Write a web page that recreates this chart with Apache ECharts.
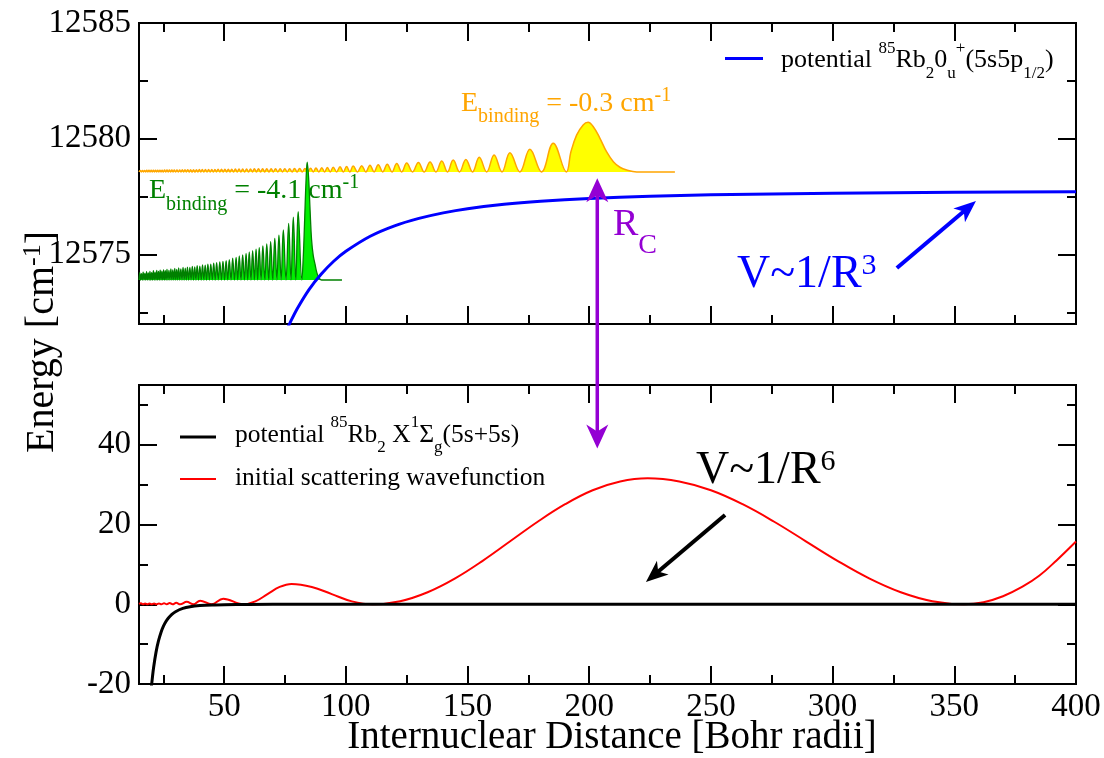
<!DOCTYPE html>
<html><head><meta charset="utf-8">
<script src="https://cdn.jsdelivr.net/npm/echarts@6/dist/echarts.min.js"></script>
<style>html,body{margin:0;padding:0;background:#fff}#c{width:1104px;height:758px}</style>
</head><body><div id="c"></div>
<script>
// ---------------- data ----------------
const X_MIN = 15, X_MAX = 400;
const TOP_Y_MIN = 12572, TOP_Y_MAX = 12585;
const BOT_Y_MIN = -20, BOT_Y_MAX = 55;

const xMajorTicks = [50,100,150,200,250,300,350,400];
const xMinorTicks = [25,75,125,175,225,275,325,375];
const topYMajorTicks = [12575,12580,12585];
const topYMinorTicks = [12572.5,12577.5,12582.5];
const botYMajorTicks = [-20,0,20,40];
const botYMinorTicks = [-10,10,30,50];

// excited potential 0u+ (5s5p1/2)
const bluePotential = [[76,12571.81],[77,12572.04],[80,12572.66],[85,12573.51],[90,12574.17],[95,12574.71],[100,12575.14],[110,12575.79],[120,12576.24],[130,12576.56],[140,12576.80],[150,12576.98],[165,12577.17],[180,12577.30],[200,12577.42],[225,12577.52],[250,12577.58],[300,12577.65],[350,12577.69],[400,12577.71]];

// bound state E = -4.1 cm-1 (|psi|^2 drawn on its energy)
const GREEN_BASE = 12573.90;
const greenPeaks = [[15.3,12574.22],[16.0,12574.17],[16.7,12574.24],[17.4,12574.19],[18.1,12574.26],[18.8,12574.21],[19.5,12574.27],[20.2,12574.22],[20.9,12574.30],[21.6,12574.24],[22.3,12574.31],[23.0,12574.27],[23.7,12574.33],[24.4,12574.28],[25.1,12574.34],[25.8,12574.30],[26.5,12574.36],[27.3,12574.32],[28.1,12574.38],[28.9,12574.34],[29.7,12574.40],[30.5,12574.36],[31.3,12574.42],[32.2,12574.38],[33.1,12574.44],[34.0,12574.41],[34.9,12574.46],[35.9,12574.44],[36.9,12574.49],[37.9,12574.47],[38.9,12574.52],[40.0,12574.50],[41.1,12574.55],[42.2,12574.54],[43.3,12574.58],[44.5,12574.58],[45.7,12574.63],[46.9,12574.65],[48.2,12574.68],[49.5,12574.70],[50.8,12574.74],[52.1,12574.78],[53.5,12574.84],[54.9,12574.88],[56.2,12574.94],[57.6,12574.98],[59.0,12575.05],[60.3,12575.11],[61.7,12575.17],[63.1,12575.23],[64.4,12575.30],[65.9,12575.37],[67.5,12575.46],[69.1,12575.56],[70.8,12575.70],[72.5,12575.84],[74.3,12576.06],[76.5,12576.35],[78.4,12576.61],[80.4,12576.85],[82.5,12574.9],[83.0,12576.3],[83.6,12578.1],[84.1,12578.99],[84.7,12578.3],[85.3,12576.9],[85.9,12575.65],[86.6,12574.95],[87.3,12574.6],[88.0,12574.25],[88.7,12574.04]];
const greenNodes = [15.0,15.65,16.35,17.05,17.75,18.45,19.15,19.85,20.55,21.25,21.95,22.65,23.35,24.05,24.75,25.45,26.15,26.9,27.7,28.5,29.3,30.1,30.9,31.75,32.65,33.55,34.45,35.4,36.4,37.4,38.4,39.45,40.55,41.65,42.75,43.9,45.1,46.3,47.55,48.85,50.15,51.45,52.8,54.2,55.55,56.9,58.3,59.65,61.0,62.4,63.75,65.15,66.7,68.3,69.95,71.65,73.4,75.4,77.45,79.4,81.9,90.0,98.4];

// bound state E = -0.3 cm-1
const ORANGE_BASE = 12578.57;
const orangePeaks = [[15.5,12578.63],[16.4,12578.63],[17.3,12578.63],[18.2,12578.64],[19.1,12578.64],[20.0,12578.64],[20.9,12578.64],[21.8,12578.64],[22.7,12578.64],[23.6,12578.64],[24.5,12578.64],[25.5,12578.65],[26.5,12578.65],[27.5,12578.65],[28.5,12578.65],[29.5,12578.65],[30.6,12578.65],[31.7,12578.65],[32.8,12578.66],[33.9,12578.66],[35.0,12578.66],[36.2,12578.66],[37.4,12578.66],[38.6,12578.66],[39.8,12578.67],[41.0,12578.67],[42.3,12578.67],[43.6,12578.67],[44.9,12578.67],[46.2,12578.67],[47.5,12578.68],[48.9,12578.68],[50.3,12578.68],[51.7,12578.68],[53.1,12578.68],[54.6,12578.69],[56.1,12578.69],[57.6,12578.69],[59.2,12578.69],[60.8,12578.69],[62.4,12578.70],[64.1,12578.70],[65.8,12578.70],[67.5,12578.70],[69.3,12578.70],[71.1,12578.71],[73.0,12578.71],[74.9,12578.71],[76.9,12578.71],[78.9,12578.72],[81.0,12578.72],[83.2,12578.72],[85.5,12578.73],[87.7,12578.74],[90.1,12578.75],[92.4,12578.76],[94.8,12578.77],[97.6,12578.79],[100.3,12578.80],[103.0,12578.82],[106.5,12578.84],[109.9,12578.86],[113.3,12578.88],[117.0,12578.90],[120.9,12578.93],[125.0,12578.95],[129.8,12578.98],[134.6,12579.00],[139.4,12579.04],[144.1,12579.08],[149.3,12579.11],[154.8,12579.20],[160.9,12579.30],[167.4,12579.40],[175.6,12579.55],[185.2,12579.81],[192.5,12579.45],[194.8,12580.16],[197.5,12580.60],[199.5,12580.71],[201.8,12580.50],[204.4,12580.02],[207.1,12579.44],[209.9,12579.01],[212.6,12578.77],[215.4,12578.65]];
const orangeNodes = [15.0,15.95,16.85,17.75,18.65,19.55,20.45,21.35,22.25,23.15,24.05,25.0,26.0,27.0,28.0,29.0,30.05,31.15,32.25,33.35,34.45,35.6,36.8,38.0,39.2,40.4,41.65,42.95,44.25,45.55,46.85,48.2,49.6,51.0,52.4,53.85,55.35,56.85,58.4,60.0,61.6,63.25,64.95,66.65,68.4,70.2,72.05,73.95,75.9,77.9,79.95,82.1,84.35,86.6,88.9,91.25,93.6,96.2,98.95,101.65,104.75,108.2,111.6,115.15,118.95,122.95,127.4,132.2,137.0,141.75,146.7,152.05,157.85,164.15,171.5,180.4,190.6,219.5,235.2];

// ground potential X1Sigma_g (5s+5s)
const blackPotential = [[20.0,-21.25],[20.5,-18.4],[21,-15.85],[22,-12.0],[23,-9.19],[24,-7.12],[25,-5.57],[26,-4.40],[27,-3.51],[28.5,-2.55],[30,-1.87],[33,-1.05],[36,-0.62],[40,-0.33],[45,-0.16],[50,-0.09],[60,-0.03],[80,-0.005],[400,0]];

// initial scattering wavefunction
const redWave = [[15,0.1],[15.8,0.25],[16.6,0],[17.5,0.2],[18.4,0],[19.3,0.2],[20.2,0],[21.2,0.2],[22.2,0],[23.2,0.2],[24.2,0],[25.3,0.25],[26.4,0],[27.6,0.3],[28.8,0],[30.3,0.35],[31.9,0],[34.6,0.6],[37.4,0],[40.1,0.9],[44.8,0],[49.6,1.4],[57.8,0],[62.8,0.73],[67.8,2.55],[72.8,4.35],[77.7,5.1],[86,4.35],[94.2,2.55],[102.5,0.73],[111,0],[122.3,0.77],[133.6,3.02],[144.9,6.5],[156.2,10.9],[167.5,15.8],[178.8,20.7],[190.1,25.1],[201.4,28.6],[212.7,30.8],[224,31.6],[237,30.8],[250,28.6],[263,25.1],[276,20.7],[289,15.8],[302,10.9],[315,6.5],[328,3.02],[341,0.77],[354,0],[362,0.5],[370,2.0],[378,4.4],[385,7.2],[392,11.0],[400,15.75]];

// ---------------- chart ----------------
const FONT = 'Liberation Serif';
const chart = echarts.init(document.getElementById('c'), null, {renderer:'canvas'});

function wave(peaks, nodes, base){
  const pts = peaks.map(p => [p[0], p[1]]);
  nodes.forEach(r => pts.push([r, base]));
  pts.sort((a,b) => a[0]-b[0]);
  return pts;
}
const AXC = '#000';
const LABEL = {color:'#000', fontFamily:FONT, fontSize:33, formatter: v => String(v)};
function xAx(grid, pos, vals, len, labels){
  return {type:'value', gridIndex:grid, position:pos, min:X_MIN, max:X_MAX, offset:0,
    axisLine:{show:true, onZero:false, lineStyle:{color:AXC, width:2}},
    axisTick:{show:true, inside:true, length:len, customValues:vals, lineStyle:{color:AXC, width:2}},
    axisLabel:Object.assign({show:labels, customValues:vals, margin:7}, LABEL),
    splitLine:{show:false}, minorTick:{show:false}};
}
function yAx(grid, pos, vals, len, labels, mn, mx){
  return {type:'value', gridIndex:grid, position:pos, min:mn, max:mx, offset:0,
    axisLine:{show:true, onZero:false, lineStyle:{color:AXC, width:2}},
    axisTick:{show:true, inside:true, length:len, customValues:vals, lineStyle:{color:AXC, width:2}},
    axisLabel:Object.assign({show:labels, customValues:vals, margin:8}, LABEL),
    splitLine:{show:false}, minorTick:{show:false}};
}
const MAJ = 18, MIN = 9;

chart.setOption({
  animation:false,
  backgroundColor:'#fff',
  textStyle:{fontFamily:FONT},
  grid:[
    {left:139, right:28, top:23, height:301},
    {left:139, right:28, top:385, height:299}
  ],
  xAxis:[
    xAx(0,'bottom',xMajorTicks,MAJ,false), xAx(0,'bottom',xMinorTicks,MIN,false),
    xAx(0,'top',xMajorTicks,MAJ,false), xAx(0,'top',xMinorTicks,MIN,false),
    xAx(1,'bottom',xMajorTicks,MAJ,true), xAx(1,'bottom',xMinorTicks,MIN,false),
    xAx(1,'top',xMajorTicks,MAJ,false), xAx(1,'top',xMinorTicks,MIN,false)
  ],
  yAxis:[
    yAx(0,'left',topYMajorTicks,MAJ,true,TOP_Y_MIN,TOP_Y_MAX), yAx(0,'left',topYMinorTicks,MIN,false,TOP_Y_MIN,TOP_Y_MAX),
    yAx(0,'right',topYMajorTicks,MAJ,false,TOP_Y_MIN,TOP_Y_MAX), yAx(0,'right',topYMinorTicks,MIN,false,TOP_Y_MIN,TOP_Y_MAX),
    yAx(1,'left',botYMajorTicks,MAJ,true,BOT_Y_MIN,BOT_Y_MAX), yAx(1,'left',botYMinorTicks,MIN,false,BOT_Y_MIN,BOT_Y_MAX),
    yAx(1,'right',botYMajorTicks,MAJ,false,BOT_Y_MIN,BOT_Y_MAX), yAx(1,'right',botYMinorTicks,MIN,false,BOT_Y_MIN,BOT_Y_MAX)
  ],
  series:[
    {type:'line', xAxisIndex:0, yAxisIndex:0, data:wave(orangePeaks, orangeNodes, ORANGE_BASE), symbol:'none', smooth:0.4,
      lineStyle:{color:'#ffa500', width:1.5}, areaStyle:{origin:ORANGE_BASE, color:'#ffff00', opacity:1}, z:2, silent:true},
    {type:'line', xAxisIndex:0, yAxisIndex:0, data:wave(greenPeaks, greenNodes, GREEN_BASE), symbol:'none', smooth:0.4,
      lineStyle:{color:'#008000', width:1.3}, areaStyle:{origin:GREEN_BASE, color:'#00f000', opacity:1}, z:3, silent:true},
    {type:'line', xAxisIndex:0, yAxisIndex:0, data:bluePotential, symbol:'none', smooth:0.3,
      lineStyle:{color:'#0000ff', width:3}, z:4, silent:true},
    {type:'line', xAxisIndex:4, yAxisIndex:4, data:redWave, symbol:'none', smooth:0.4,
      lineStyle:{color:'#ff0000', width:2}, z:3, silent:true},
    {type:'line', xAxisIndex:4, yAxisIndex:4, data:blackPotential, symbol:'none', smooth:0.3,
      lineStyle:{color:'#000000', width:3}, z:4, silent:true}
  ]
});

// ---------------- annotations ----------------
const G = [];
const P0 = (x,y) => chart.convertToPixel({seriesIndex:0}, [x,y]);
const P1 = (x,y) => chart.convertToPixel({seriesIndex:3}, [x,y]);

function arrowHead(tip, from, color, L, W, notch){
  const dx = tip[0]-from[0], dy = tip[1]-from[1];
  const len = Math.hypot(dx,dy), ux = dx/len, uy = dy/len, nx = -uy, ny = ux;
  const bx = tip[0]-ux*L, by = tip[1]-uy*L;
  G.push({type:'polygon', z:60, silent:true, shape:{points:[[tip[0],tip[1]],[bx+nx*W,by+ny*W],[tip[0]-ux*(L-notch),tip[1]-uy*(L-notch)],[bx-nx*W,by-ny*W]]}, style:{fill:color}});
  return [tip[0]-ux*(L-notch-1), tip[1]-uy*(L-notch-1)];
}
function seg(a,b,color,w){
  G.push({type:'line', z:59, silent:true, shape:{x1:a[0],y1:a[1],x2:b[0],y2:b[1]}, style:{stroke:color, lineWidth:w}});
}
// purple double arrow (R_C)
{
  const a = P0(203.3, 12578.29), b = P1(203.3, 39.1);
  const ea = arrowHead(a, b, '#9400d3', 24, 11, 7);
  const eb = arrowHead(b, a, '#9400d3', 24, 11, 7);
  seg(ea, eb, '#9400d3', 3.5);
}
// blue arrow V~1/R^3
{
  const s = P0(326.4, 12574.42), t = P0(358.9, 12577.31);
  const e = arrowHead(t, s, '#0000ff', 22, 9, 6);
  seg(s, e, '#0000ff', 4);
}
// black arrow V~1/R^6
{
  const s = P1(255.8, 22.4), t = P1(223.3, 5.6);
  const e = arrowHead(t, s, '#000000', 22, 9, 6);
  seg(s, e, '#000000', 4);
}

function richText(x, y, parts, F, f, color, supRaise, subDrop, extra){
  const k = 0.34;
  const supShift = supRaise - k*(F-f);
  const subShift = k*(F-f) + subDrop;
  const rich = {
    n:{fontSize:F, fontFamily:FONT, fill:color, color:color},
    sup:{fontSize:f, fontFamily:FONT, fill:color, color:color, padding: supShift>=0 ? [0,0,2*supShift,0] : [-2*supShift,0,0,0]},
    sub:{fontSize:f, fontFamily:FONT, fill:color, color:color, padding:[2*subShift,0,0,0]}
  };
  const text = parts.map(p => '{' + p[1] + '|' + p[0] + '}').join('');
  const el = {type:'text', z:70, silent:true, x:x, y:y,
    style:{text:text, rich:rich, fontSize:F, fontFamily:FONT, fill:color,
      align:'left', textAlign:'left', verticalAlign:'middle', textVerticalAlign:'middle'}};
  if (extra) Object.assign(el, extra);
  if (extra && extra.center){ el.style.align = 'center'; el.style.textAlign = 'center'; delete el.center; }
  G.push(el);
}

// annotation texts
richText(149, 191, [['E','n'],['binding','sub'],[' = -4.1 cm','n'],['-1','sup']], 28, 20, '#008000', 10.5, 11);
richText(461, 104, [['E','n'],['binding','sub'],[' = -0.3 cm','n'],['-1','sup']], 28, 20, '#ffa500', 11, 10);
richText(613, 225.5, [['R','n'],['C','sub']], 38, 28, '#9400d3', 0, 17);
richText(737, 275, [['V~1/R','n'],['3','sup']], 46, 30, '#0000ff', 14, 0);
richText(696, 471, [['V~1/R','n'],['6','sup']], 46, 30, '#000000', 14, 0);

// legends
seg([725,58.5],[763,58.5],'#0000ff',3);
richText(781, 60, [['potential ','n'],['85','sup'],['Rb','n'],['2','sub'],['0','n'],['u','sub'],['+','sup'],['(5s5p','n'],['1/2','sub'],[')','n']], 26, 17, '#000', 15, 10);
seg([180,437],[216,437],'#000000',3);
seg([180,479],[216,479],'#ff0000',2);
richText(235, 435, [['potential ','n'],['85','sup'],['Rb','n'],['2','sub'],[' X','n'],['1','sup'],['Σ','n'],['g','sub'],['(5s+5s)','n']], 25.5, 17, '#000', 15, 10);
richText(235, 478, [['initial scattering wavefunction','n']], 25.5, 17, '#000', 15, 10);

// axis titles
richText(0, 0, [['Energy [cm','n'],['-1','sup'],[']','n']], 40, 26, '#000', 14, 0, {x:42, y:342, rotation:Math.PI/2, center:true});
richText(612, 738, [['Internuclear Distance [Bohr radii]','n']], 39, 26, '#000', 0, 0, {center:true});

chart.setOption({graphic:{elements:G}});
</script>
</body></html>
